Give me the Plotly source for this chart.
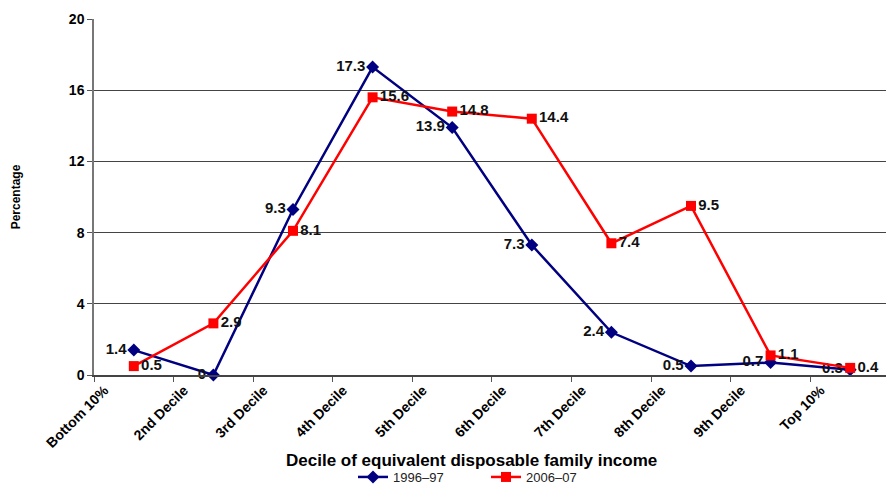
import numpy as np
import plotly.graph_objects as go

categories = ["Bottom 10%", "2nd Decile", "3rd Decile", "4th Decile", "5th Decile",
              "6th Decile", "7th Decile", "8th Decile", "9th Decile", "Top 10%"]
s1996 = [1.4, 0, 9.3, 17.3, 13.9, 7.3, 2.4, 0.5, 0.7, 0.3]
s2006 = [0.5, 2.9, 8.1, 15.6, 14.8, 14.4, 7.4, 9.5, 1.1, 0.4]
yticks = [0, 4, 8, 12, 16, 20]

FONT = "Liberation Sans, Arial, sans-serif"
idx = np.arange(len(categories))
xc = idx + 0.5  # category centres; labels sit on category boundaries

fig = go.Figure()
fig.add_trace(go.Scatter(
    x=xc, y=s1996, name="1996–97", mode="lines+markers+text", cliponaxis=False,
    line=dict(color="#000080", width=2.5),
    marker=dict(symbol="diamond", size=10, color="#000080"),
    text=[f"<b>{v:g}</b>" for v in s1996], textposition="middle left",
    textfont=dict(family=FONT, size=15, color="#111"),
))
fig.add_trace(go.Scatter(
    x=xc, y=s2006, name="2006–07", mode="lines+markers+text", cliponaxis=False,
    line=dict(color="#FF0000", width=2.5),
    marker=dict(symbol="square", size=10, color="#FF0000"),
    text=[f"<b>{v:g}</b>" for v in s2006], textposition="middle right",
    textfont=dict(family=FONT, size=15, color="#111"),
))

fig.update_layout(
    width=886, height=487,
    margin=dict(l=94, r=0, t=19, b=112),
    paper_bgcolor="white", plot_bgcolor="white",
    font=dict(family=FONT, color="black"),
    showlegend=True,
    legend=dict(orientation="h", xref="container", yref="container",
                x=353 / 886, xanchor="left", y=10 / 487, yanchor="middle",
                entrywidth=88, entrywidthmode="pixels",
                font=dict(family=FONT, size=13, color="#222"),
                tracegroupgap=0, bgcolor="rgba(0,0,0,0)"),
    annotations=[dict(
        text="<b>Decile of equivalent disposable family income</b>",
        xref="paper", yref="paper", x=0.477, y=-0.239, xanchor="center", yanchor="middle",
        showarrow=False, font=dict(family=FONT, size=17, color="black"),
    )],
)
fig.update_xaxes(
    automargin=False,
    range=[0, 9.95], tickmode="array", tickvals=idx + 0.13,
    ticktext=[f"<b>{c}</b>" for c in categories], tickangle=-45,
    tickfont=dict(family=FONT, size=14, color="black"),
    ticks="", ticklen=5,
    minor=dict(tick0=0, dtick=1, ticks="outside", ticklen=5, tickcolor="#555", showgrid=False),
    showline=True, linecolor="#444", linewidth=1.5, showgrid=False, zeroline=False,
)
fig.update_yaxes(
    automargin=False,
    range=[0, 20], tickmode="array", tickvals=yticks,
    ticktext=[f"<b>{v}</b>" for v in yticks],
    tickfont=dict(family=FONT, size=14, color="black"),
    ticks="outside", ticklen=5, tickcolor="#555",
    showline=True, linecolor="#777", linewidth=1.5,
    showgrid=True, gridcolor="#444", gridwidth=1, zeroline=False,
    title=dict(text="<b>Percentage</b>", font=dict(family=FONT, size=12, color="black"),
               standoff=46),
)

fig.write_html("out.html", config={"displayModeBar": False},
               post_script="document.body.style.margin='0';")
